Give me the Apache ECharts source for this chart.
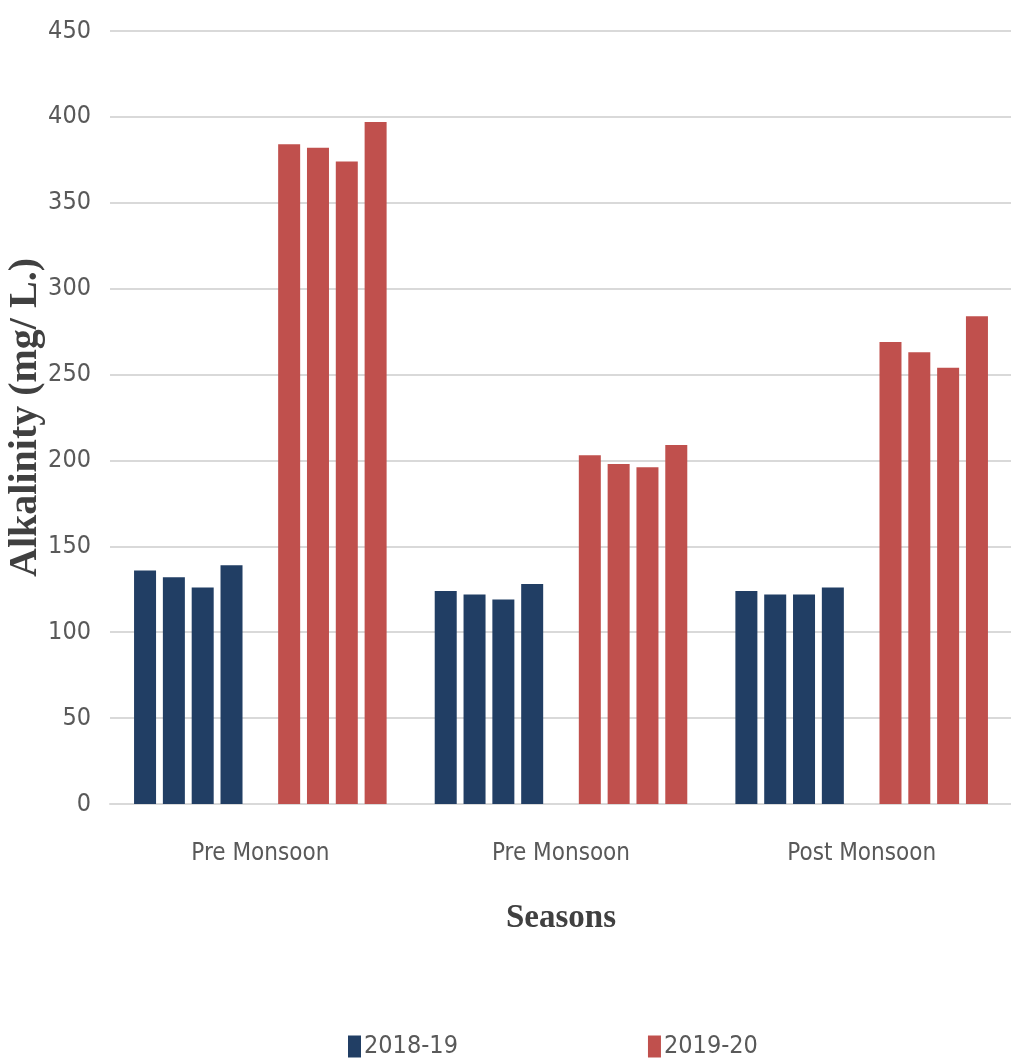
<!DOCTYPE html>
<html>
<head>
<meta charset="utf-8">
<title>Alkalinity by season</title>
<script src="https://cdn.jsdelivr.net/npm/echarts@6/dist/echarts.min.js"></script>
<style>
  html, body { margin: 0; padding: 0; background: #ffffff; }
  #chart { width: 1011px; height: 1064px; }
</style>
</head>
<body>
<div id="chart"></div>
<script>
// Seasons on the x axis
const seasons = ['Pre Monsoon', 'Pre Monsoon', 'Post Monsoon'];

// Alkalinity (mg/L) at four sampling sites, one row per season
const alk2018 = [
  [136, 132, 126, 139],
  [124, 122, 119, 128],
  [124, 122, 122, 126]
];
const alk2019 = [
  [384, 382, 374, 397],
  [203, 198, 196, 209],
  [269, 263, 254, 284]
];

const yearNames = ['2018-19', '2019-20'];
const yTicks = { min: 0, max: 450, interval: 50 };

const BLUE = '#213e64';
const RED = '#c0504d';
const SANS = '"Liberation Sans Narrow", "DejaVu Sans Condensed", "Open Sans", sans-serif';
const SERIF = '"Liberation Serif", "DejaVu Serif", serif';

const siteCount = alk2018[0].length;

function siteSeries(name, table, color, site) {
  return {
    type: 'bar',
    name: name,
    data: table.map(row => row[site]),
    itemStyle: { color: color },
    barWidth: 22,
    barGap: '31%'
  };
}

const series = [];
for (let s = 0; s < siteCount; s++) series.push(siteSeries(yearNames[0], alk2018, BLUE, s));
// empty slot separating the two years inside each season
series.push({
  type: 'bar', name: 'spacer', silent: true,
  data: seasons.map(() => null), barWidth: 22, barGap: '31%'
});
for (let s = 0; s < siteCount; s++) series.push(siteSeries(yearNames[1], alk2019, RED, s));

const chart = echarts.init(document.getElementById('chart'), null, { renderer: 'canvas' });
chart.setOption({
  animation: false,
  backgroundColor: '#ffffff',
  grid: { left: 110, top: 31, width: 902, bottom: 260, outerBoundsMode: 'none' },
  legend: {
    data: yearNames,
    left: 348,
    top: 1034,
    padding: 0,
    icon: 'rect',
    itemWidth: 13,
    itemHeight: 22,
    itemGap: 190,
    textStyle: { fontFamily: SANS, fontSize: 25, color: '#595959', padding: [0, 0, 0, -2] }
  },
  xAxis: {
    type: 'category',
    data: seasons,
    name: 'Seasons',
    nameLocation: 'middle',
    nameGap: 98,
    nameTextStyle: { fontFamily: SERIF, fontSize: 33, fontWeight: 'bold', color: '#404040' },
    axisLine: { show: true, lineStyle: { color: '#d9d9d9', width: 2 } },
    axisTick: { show: false },
    axisLabel: { fontFamily: SANS, fontSize: 24, color: '#595959', margin: 38 }
  },
  yAxis: {
    type: 'value',
    min: yTicks.min,
    max: yTicks.max,
    interval: yTicks.interval,
    name: 'Alkalinity (mg/ L.)',
    nameLocation: 'middle',
    nameRotate: 90,
    nameGap: 64,
    nameMoveOverlap: false,
    nameTextStyle: { fontFamily: SERIF, fontSize: 40, fontWeight: 'bold', color: '#404040' },
    axisLine: { show: false },
    axisTick: { show: false },
    axisLabel: { fontFamily: SANS, fontSize: 25, color: '#595959', margin: 19 },
    splitLine: { lineStyle: { color: '#d9d9d9', width: 2 } }
  },
  series: series
});
</script>
</body>
</html>
